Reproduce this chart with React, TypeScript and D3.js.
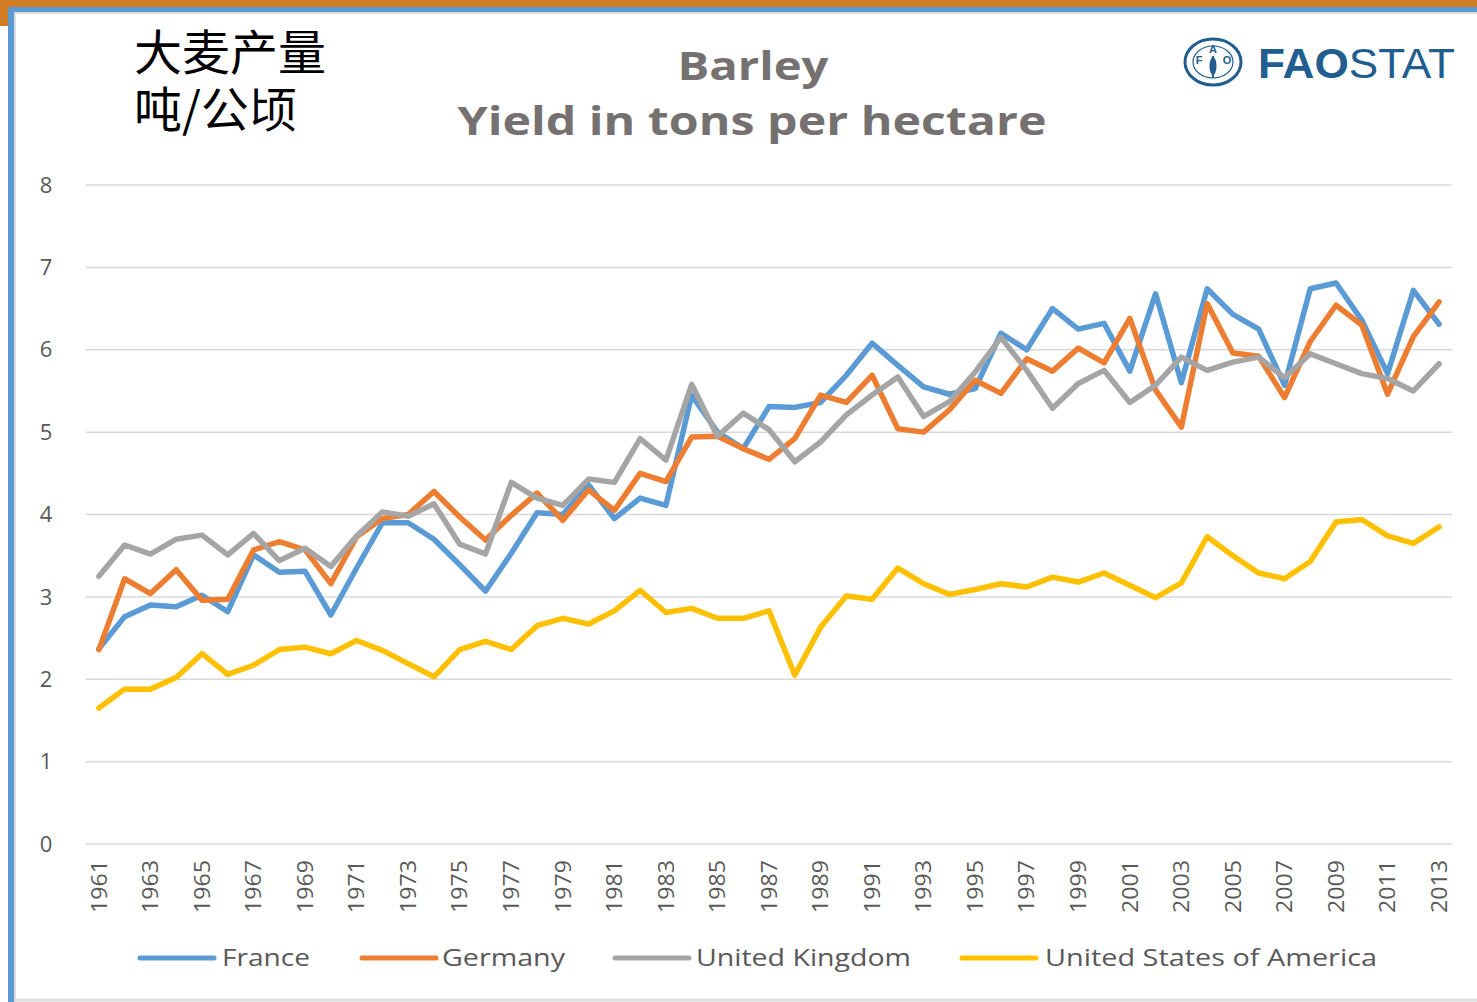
import { useMemo } from 'react';
import * as d3 from 'd3';

const years = d3.range(1961, 2014);

const france = [
  2.37, 2.76, 2.9, 2.88, 3.02, 2.82, 3.51, 3.3, 3.31, 2.78,
  3.35, 3.9, 3.9, 3.7, 3.39, 3.07, 3.53, 4.02, 4.0, 4.36,
  3.95, 4.2, 4.11, 5.45, 5.0, 4.8, 5.31, 5.3, 5.36, 5.69,
  6.08, 5.81, 5.55, 5.46, 5.53, 6.2, 6.0, 6.5, 6.25, 6.32,
  5.74, 6.68, 5.6, 6.74, 6.43, 6.25, 5.57, 6.74, 6.81, 6.36,
  5.71, 6.72, 6.31,
];
const germany = [
  2.36, 3.22, 3.04, 3.33, 2.96, 2.97, 3.57, 3.67, 3.57, 3.16,
  3.73, 3.95, 4.0, 4.28, 3.97, 3.69, 3.99, 4.26, 3.93, 4.3,
  4.05, 4.5, 4.4, 4.94, 4.95, 4.8, 4.67, 4.92, 5.45, 5.36,
  5.69, 5.04, 5.0, 5.27, 5.63, 5.47, 5.89, 5.74, 6.02, 5.84,
  6.38, 5.51, 5.06, 6.56, 5.96, 5.92, 5.42, 6.1, 6.54, 6.3,
  5.46, 6.16, 6.58,
];
const unitedKingdom = [
  3.25, 3.63, 3.52, 3.7, 3.75, 3.51, 3.77, 3.44, 3.59, 3.37,
  3.74, 4.03, 3.98, 4.13, 3.64, 3.52, 4.39, 4.2, 4.11, 4.43,
  4.39, 4.92, 4.66, 5.58, 4.95, 5.23, 5.03, 4.64, 4.88, 5.21,
  5.45, 5.67, 5.19, 5.37, 5.73, 6.15, 5.75, 5.29, 5.59, 5.75,
  5.36, 5.57, 5.91, 5.75, 5.85, 5.91, 5.66, 5.95, 5.83, 5.71,
  5.65, 5.5, 5.83,
];
const usa = [
  1.65, 1.88, 1.88, 2.02, 2.31, 2.06, 2.17, 2.36, 2.39, 2.31,
  2.47, 2.35, 2.19, 2.03, 2.36, 2.46, 2.36, 2.65, 2.74, 2.67,
  2.83, 3.08, 2.81, 2.86, 2.74, 2.74, 2.83, 2.05, 2.63, 3.01,
  2.97, 3.35, 3.16, 3.03, 3.09, 3.16, 3.12, 3.24, 3.18, 3.29,
  3.14, 2.99, 3.17, 3.73, 3.5, 3.29, 3.22, 3.43, 3.91, 3.94,
  3.74, 3.65, 3.85,
];

const seriesNames = ['France', 'Germany', 'United Kingdom', 'United States of America'];
const seriesColors = ['#5B9BD5', '#ED7D31', '#A5A5A5', '#FFC000'];
const yTickValues = [0, 1, 2, 3, 4, 5, 6, 7, 8];

const W = 1477;
const H = 1002;
const plotLeft = 86;
const plotRight = 1452;
const plotTop = 185;
const plotBottom = 844;

const App = () => {
  const allSeries = [france, germany, unitedKingdom, usa];

  const xScale = useMemo(
    () => d3.scalePoint<number>().domain(years).range([plotLeft, plotRight]).padding(0.5),
    []
  );
  const yScale = useMemo(
    () => d3.scaleLinear().domain([0, 8]).range([plotBottom, plotTop]),
    []
  );

  const lineGen = useMemo(
    () =>
      d3.line<number>()
        .x((_, i) => xScale(years[i]) as number)
        .y(d => yScale(d)),
    [xScale, yScale]
  );

  // legend entries: line start, text start, text width
  const legendItems = [
    { lx: 140, tx: 222, tw: 88 },
    { lx: 362, tx: 442, tw: 123 },
    { lx: 615, tx: 696, tw: 215 },
    { lx: 962, tx: 1045, tw: 332 },
  ];

  return (
    <svg
      width={W}
      height={H}
      style={{ position: 'absolute', left: 0, top: 0, background: '#fff' }}
    >
      {/* frame */}
      <rect x={0} y={0} width={W} height={8} fill="#D07D25" />
      <rect x={0} y={0} width={9} height={26} fill="#D07D25" />
      <rect x={8} y={7} width={W - 8} height={5} fill="#5B9BD5" />
      <rect x={8} y={7} width={6} height={H - 7} fill="#5B9BD5" />
      <line x1={14} y1={13} x2={W} y2={13} stroke="#DDDDDD" strokeWidth={2} />
      <line x1={15} y1={13} x2={15} y2={H} stroke="#DDDDDD" strokeWidth={2} />
      <line x1={14} y1={1000} x2={W} y2={1000} stroke="#DDDDDD" strokeWidth={3} />

      {/* chinese label, two lines in one text */}
      <text fontFamily="'Noto Sans CJK SC'" fontSize={48} fill="#000">
        <tspan x={134} y={70}>大麦产量</tspan>
        <tspan x={134} y={127}>吨/公顷</tspan>
      </text>

      {/* title */}
      <text
        x={753}
        y={80}
        textAnchor="middle"
        fontFamily="'Open Sans', sans-serif"
        fontWeight="bold"
        fontSize={40}
        fill="#767171"
        textLength={151}
        lengthAdjust="spacingAndGlyphs"
      >
        Barley
      </text>
      <text
        x={752}
        y={135}
        textAnchor="middle"
        fontFamily="'Open Sans', sans-serif"
        fontWeight="bold"
        fontSize={40}
        fill="#767171"
        textLength={589}
        lengthAdjust="spacingAndGlyphs"
      >
        Yield in tons per hectare
      </text>

      {/* FAOSTAT logo */}
      <g fill="none" stroke="#215D8F">
        <ellipse cx={1213} cy={62} rx={28} ry={23} strokeWidth={3} />
        <ellipse cx={1213} cy={62} rx={20} ry={16} strokeWidth={1.2} />
      </g>
      <g fill="#215D8F" fontFamily="'Liberation Sans', sans-serif" fontWeight="bold">
        <text x={1199} y={64} fontSize={11} textAnchor="middle">F</text>
        <text x={1213} y={53} fontSize={11} textAnchor="middle">A</text>
        <text x={1227} y={64} fontSize={11} textAnchor="middle">O</text>
        <ellipse cx={1213} cy={66} rx={3.5} ry={9} />
        <rect x={1212} y={56} width={2} height={22} />
      </g>
      <text
        x={1258}
        y={78}
        fontFamily="'Liberation Sans', sans-serif"
        fontSize={42}
        fill="#215D8F"
        textLength={197}
        lengthAdjust="spacingAndGlyphs"
      >
        <tspan fontWeight="bold">FAO</tspan>
        <tspan>STAT</tspan>
      </text>

      {/* gridlines */}
      {yTickValues.map(v => (
        <g key={v}>
          <line
            x1={plotLeft}
            x2={plotRight}
            y1={yScale(v)}
            y2={yScale(v)}
            stroke="#D9D9D9"
            strokeWidth={1.5}
          />
          <text
            x={46}
            y={yScale(v)}
            dy="0.35em"
            textAnchor="middle"
            fontFamily="'Open Sans', sans-serif"
            fontSize={22}
            fill="#595959"
          >
            {v}
          </text>
        </g>
      ))}

      {/* x axis labels */}
      {years.filter((_, i) => i % 2 === 0).map(yr => (
        <text
          key={yr}
          transform={`translate(${xScale(yr)}, 860) rotate(-90)`}
          textAnchor="end"
          dy="0.35em"
          fontFamily="'Open Sans', sans-serif"
          fontSize={22}
          fill="#595959"
          textLength={53}
          lengthAdjust="spacingAndGlyphs"
        >
          {yr}
        </text>
      ))}

      {/* series */}
      {allSeries.map((s, i) => (
        <path
          key={seriesNames[i]}
          d={lineGen(s) || undefined}
          fill="none"
          stroke={seriesColors[i]}
          strokeWidth={5.5}
          strokeLinejoin="round"
          strokeLinecap="round"
        />
      ))}

      {/* legend */}
      {legendItems.map((it, i) => (
        <g key={seriesNames[i]}>
          <line
            x1={it.lx}
            x2={it.lx + 74}
            y1={958}
            y2={958}
            stroke={seriesColors[i]}
            strokeWidth={5}
            strokeLinecap="round"
          />
          <text
            x={it.tx}
            y={958}
            dy="0.35em"
            fontFamily="'Open Sans', sans-serif"
            fontSize={24}
            fill="#595959"
            textLength={it.tw}
            lengthAdjust="spacingAndGlyphs"
          >
            {seriesNames[i]}
          </text>
        </g>
      ))}
    </svg>
  );
};

export default App;
